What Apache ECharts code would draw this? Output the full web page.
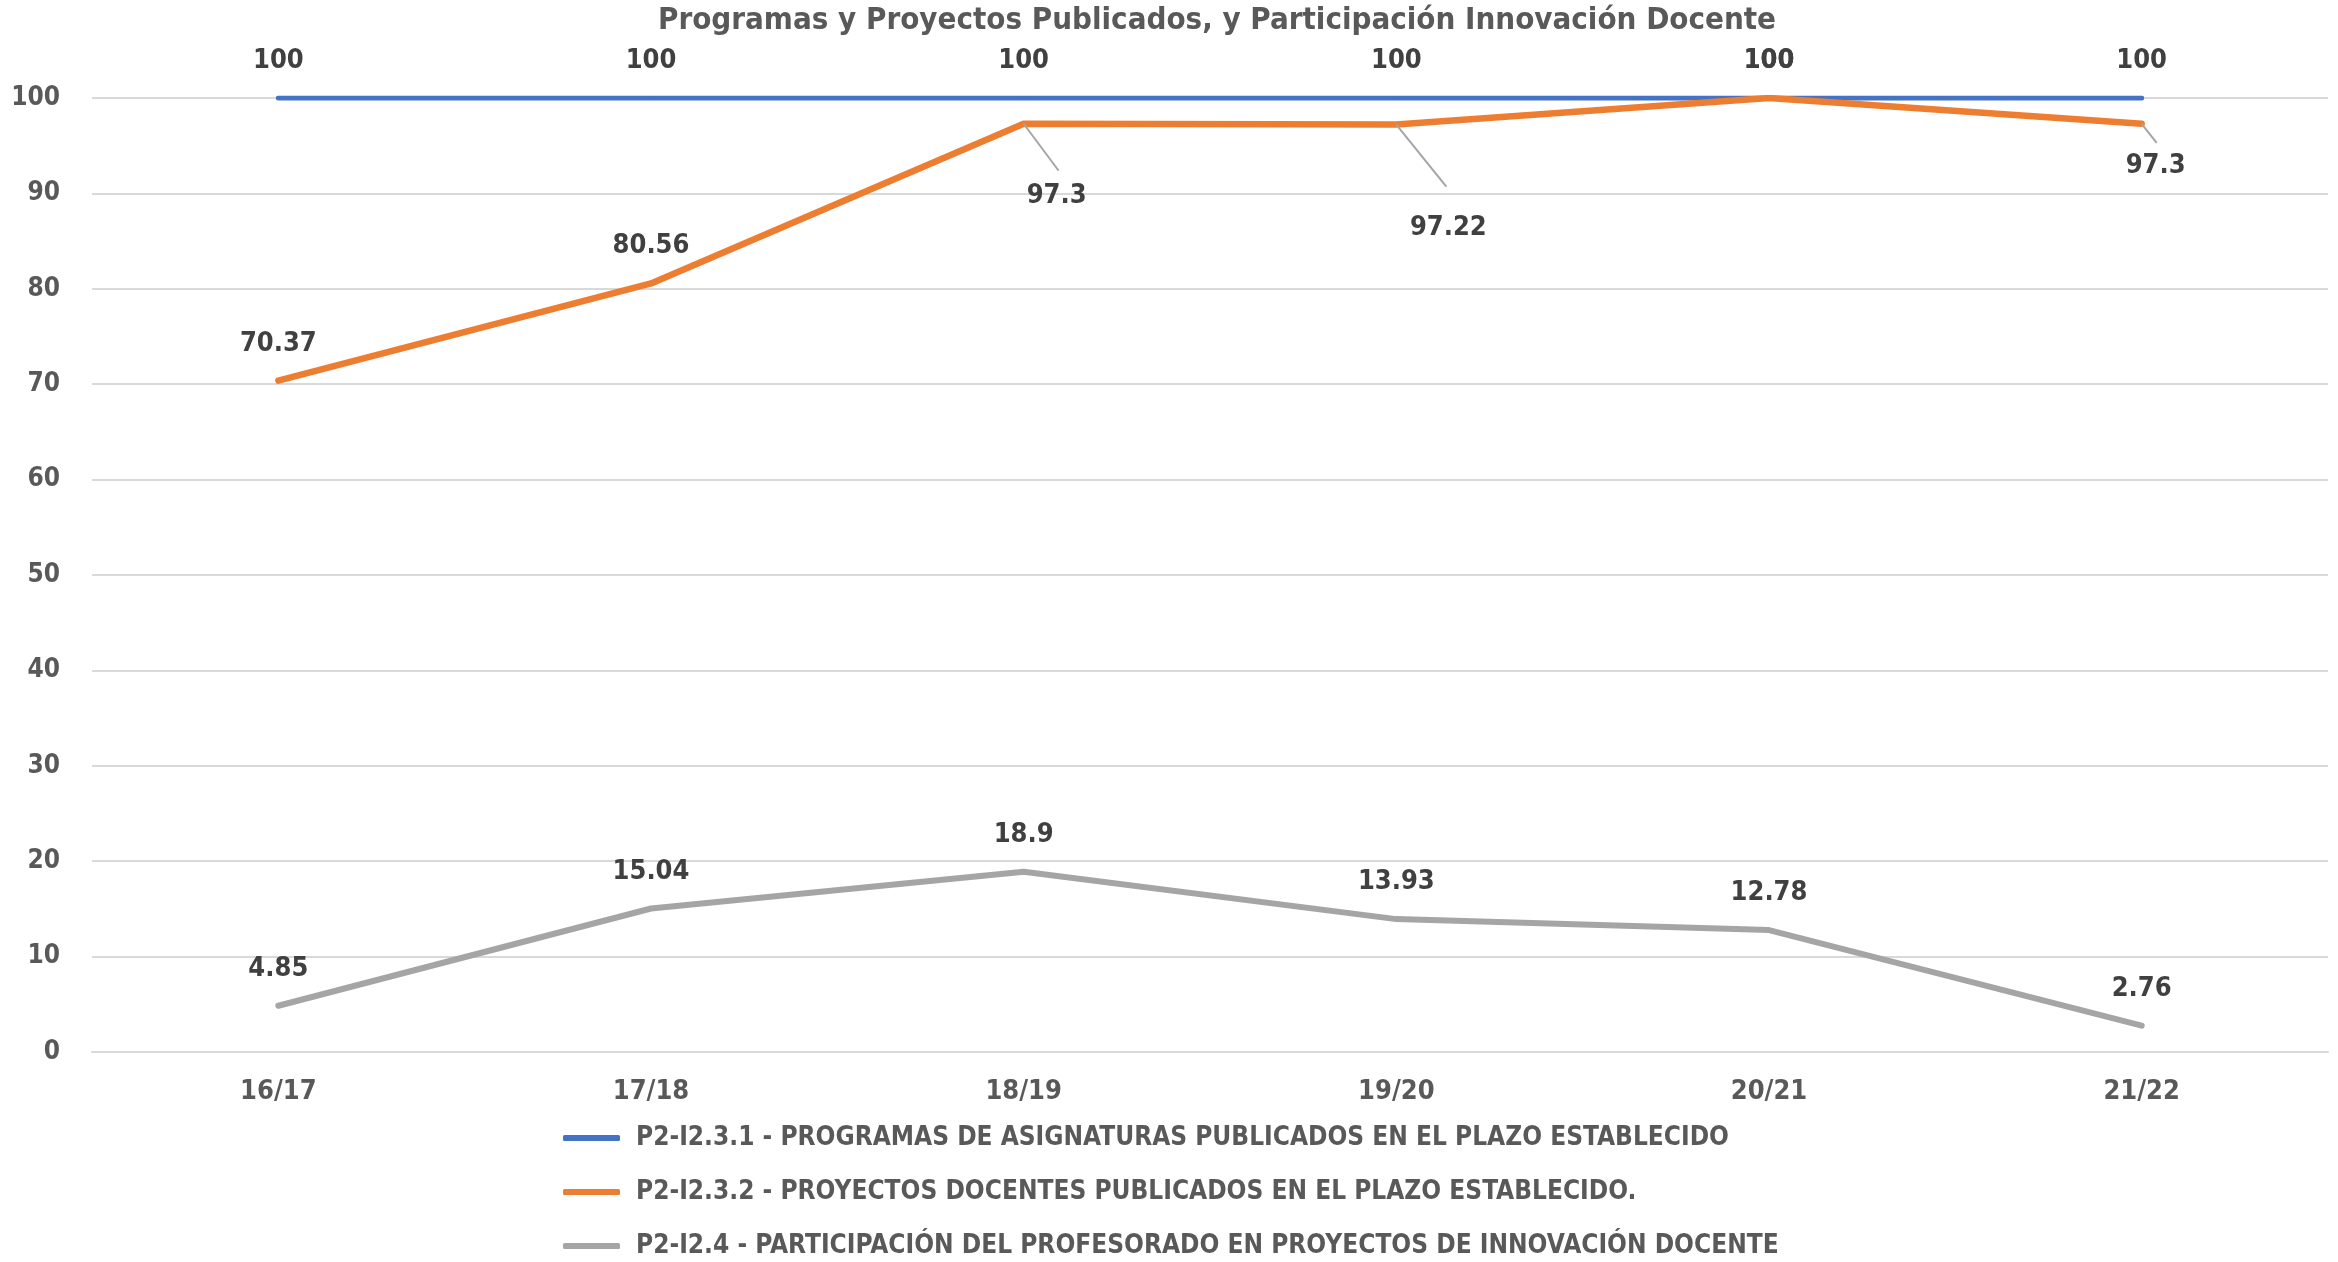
<!DOCTYPE html>
<html>
<head>
<meta charset="utf-8">
<script src="https://cdn.jsdelivr.net/npm/echarts@6/dist/echarts.min.js"></script>
<style>
html,body{margin:0;padding:0;background:#fff;}
#chart{width:2338px;height:1262px;}
</style>
</head>
<body>
<div id="chart"></div>
<script>
const categories = ['16/17', '17/18', '18/19', '19/20', '20/21', '21/22'];
const programas = [100, 100, 100, 100, 100, 100];
const proyectos = [70.37, 80.56, 97.3, 97.22, 100, 97.3];
const innovacion = [4.85, 15.04, 18.9, 13.93, 12.78, 2.76];
const yTicks = [0, 10, 20, 30, 40, 50, 60, 70, 80, 90, 100];
const seriesNames = [
  'P2-I2.3.1 - PROGRAMAS DE ASIGNATURAS PUBLICADOS EN EL PLAZO ESTABLECIDO',
  'P2-I2.3.2 - PROYECTOS DOCENTES PUBLICADOS EN EL PLAZO ESTABLECIDO.',
  'P2-I2.4 - PARTICIPACIÓN DEL PROFESORADO EN PROYECTOS DE INNOVACIÓN DOCENTE'
];
const titleText = 'Programas y Proyectos Publicados, y Participación Innovación Docente';

// label displacement (pixels) for the orange series: [labelDx, labelDy, leaderDx, leaderDy], null = default
const orangeLabelShift = [null, null, [33, 73, 35, 47], [52, 104, 50, 62], null, [14, 43, 15, 19]];

const FONT = '"Liberation Sans Narrow", "DejaVu Sans Condensed", sans-serif';
const LABEL_DIST = 23;
const LABEL_SIZE = 27;

const chart = echarts.init(document.getElementById('chart'), null, {renderer: 'canvas'});

const orangeData = proyectos.map((v, i) => {
  const s = orangeLabelShift[i];
  if (!s) return v;
  return {
    value: v,
    label: {position: 'top', offset: [s[0], s[1] + LABEL_DIST + LABEL_SIZE / 2]}
  };
});

const leaderData = [];
proyectos.forEach((v, i) => {
  const s = orangeLabelShift[i];
  if (s) leaderData.push([i, v, s[2], s[3]]);
});

const labelCommon = {
  show: true, position: 'top', distance: LABEL_DIST,
  fontFamily: FONT, fontSize: LABEL_SIZE, fontWeight: 'bold', color: '#404040'
};

chart.setOption({
  animation: false,
  backgroundColor: '#ffffff',
  title: {
    text: titleText, left: 1217, textAlign: 'center', top: 5, padding: 0,
    textStyle: {fontFamily: FONT, fontSize: 31, fontWeight: 'bold', color: '#595959'}
  },
  grid: {left: 92, right: 10, top: 98, bottom: 210, containLabel: false},
  legend: {
    orient: 'vertical', left: 563, top: 1125, itemGap: 28, padding: 0,
    itemWidth: 57, itemHeight: 6, icon: 'roundRect',
    textStyle: {fontFamily: FONT, fontSize: 26, fontWeight: 'bold', color: '#595959', padding: [0, 0, 0, 11]},
    data: seriesNames
  },
  xAxis: {
    type: 'category', data: categories, boundaryGap: true,
    axisLine: {show: true, lineStyle: {color: '#D9D9D9', width: 2}},
    axisTick: {show: false},
    axisLabel: {fontFamily: FONT, fontSize: 27, fontWeight: 'bold', color: '#595959', margin: 26}
  },
  yAxis: {
    type: 'value', min: yTicks[0], max: yTicks[yTicks.length - 1], interval: yTicks[1] - yTicks[0],
    axisLine: {show: false}, axisTick: {show: false},
    splitLine: {lineStyle: {color: '#D9D9D9', width: 2}},
    axisLabel: {fontFamily: FONT, fontSize: 26, fontWeight: 'bold', color: '#595959', margin: 32}
  },
  series: [
    {
      name: seriesNames[0], type: 'line', data: programas,
      symbol: 'circle', symbolSize: 1, showSymbol: true,
      lineStyle: {color: '#4472C4', width: 5, cap: 'round'}, itemStyle: {color: '#4472C4'},
      label: labelCommon, z: 2
    },
    {
      name: seriesNames[1], type: 'line', data: orangeData,
      symbol: 'circle', symbolSize: 1, showSymbol: true,
      lineStyle: {color: '#ED7D31', width: 6.5, cap: 'round', join: 'round'}, itemStyle: {color: '#ED7D31'},
      label: labelCommon, z: 3
    },
    {
      name: seriesNames[2], type: 'line', data: innovacion,
      symbol: 'circle', symbolSize: 1, showSymbol: true,
      lineStyle: {color: '#A5A5A5', width: 6, cap: 'round', join: 'round'}, itemStyle: {color: '#A5A5A5'},
      label: labelCommon, z: 3
    },
    {
      type: 'custom', data: leaderData, z: 4, silent: true,
      renderItem: function (params, api) {
        const p = api.coord([api.value(0), api.value(1)]);
        return {
          type: 'line',
          shape: {x1: p[0], y1: p[1], x2: p[0] + api.value(2), y2: p[1] + api.value(3)},
          style: {stroke: '#A5A5A5', lineWidth: 2}
        };
      }
    }
  ]
});
</script>
</body>
</html>
